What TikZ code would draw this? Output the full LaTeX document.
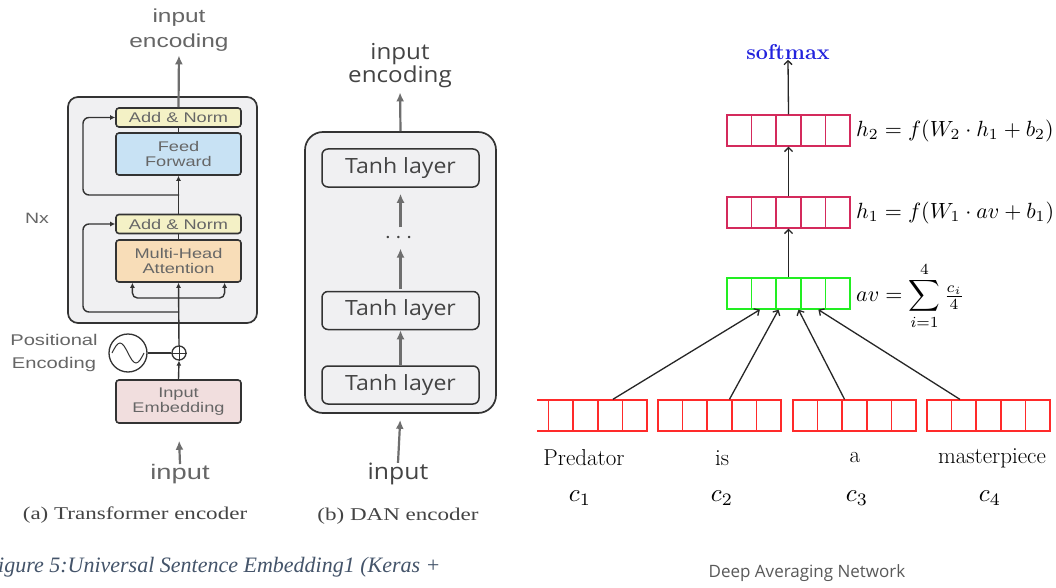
\documentclass[tikz,border=0pt]{standalone}
\usepackage{fontspec}
\usepackage{graphicx}
\usepackage{amsmath}
\usetikzlibrary{arrows.meta,calc}
\newfontfamily\arialf{Liberation Sans}
\newfontfamily\osans{Open Sans}
\newfontfamily\timesf{Liberation Serif}
\newcommand\fs[1]{\fontsize{#1}{#1}\selectfont}
\newcommand\sxa[1]{\scalebox{1.3}[1]{#1}}
\newcommand\sxb[1]{\scalebox{1.1}[1]{#1}}
\newcommand\sxc[1]{\scalebox{1.28}[1]{#1}}
\newcommand\mth[1]{\scalebox{2.2}{$#1$}}
\definecolor{tline}{HTML}{333333}
\definecolor{tgray}{HTML}{666666}
\definecolor{anfill}{HTML}{F4F1C6}
\definecolor{fffill}{HTML}{C8E2F4}
\definecolor{mhfill}{HTML}{F8DDB8}
\definecolor{iefill}{HTML}{F1DEDE}
\definecolor{bgfill}{HTML}{F0F0F2}
\definecolor{arrgray}{HTML}{6E6E6E}
\definecolor{vecred}{HTML}{D42A5C}
\definecolor{wordred}{HTML}{FF2A2A}
\definecolor{vecgreen}{HTML}{22EE22}
\definecolor{smblue}{HTML}{2222DD}
\definecolor{capblue}{HTML}{44546A}
\definecolor{dangray}{HTML}{595959}
\definecolor{txtdark}{HTML}{444444}
\newcommand\vecbox[4]{%
  \node[vec, draw=#4] (#1) at (#2+61.5,#3+15.5) {};
  \foreach \k in {1,...,4}
    \draw[#4, line width=1.3pt] ($(#1.north west)!\k/5!(#1.north east)$) -- ($(#1.south west)!\k/5!(#1.south east)$);
}
\begin{document}
\begin{tikzpicture}[x=1pt,y=-1pt,
  tbox/.style={draw=tline, line width=1.6pt, rounded corners=3pt, minimum width=125pt,
    inner sep=0pt, font=\arialf\fontsize{14}{15}\selectfont, text=tgray, align=center},
  tlab/.style={font=\arialf, text=tgray, align=center, inner sep=0pt},
  capt/.style={font=\timesf\fontsize{18}{20}\selectfont, text=txtdark, inner sep=0pt},
  garrow/.style={draw=arrgray, line width=2.2pt, -{Latex[length=9pt,width=8pt]}},
  tarrow/.style={draw=tline, line width=1.4pt, -{Latex[length=5pt,width=5pt]}},
  tlinep/.style={draw=tline, line width=1.4pt},
  danbox/.style={draw=tline, line width=1.5pt, rounded corners=6pt, fill=bgfill,
    minimum width=157pt, minimum height=38pt, inner sep=0pt,
    font=\osans\fontsize{21}{21}\selectfont, text=txtdark},
  vec/.style={minimum width=123pt, minimum height=31pt, inner sep=0pt, line width=1.3pt},
  narrow/.style={draw=black!85, line width=1.3pt, -{Straight Barb[length=4pt,width=8pt]}},
  word/.style={font=\fs{23}, inner sep=0pt}
]
\useasboundingbox (0,0) rectangle (1056,588);
\fill[white] (0,0) rectangle (1056,588);

% ================= Transformer encoder =================
\node[draw=tline, line width=1.7pt, fill=bgfill, rounded corners=10pt,
  minimum width=189pt, minimum height=226pt, inner sep=0pt] (tenc) at (162.5,210) {};
\node[tbox, fill=anfill, minimum height=19pt] (an1) at (178.5,117.5) {\sxa{Add \& Norm}};
\node[tbox, fill=fffill, minimum height=42pt] (ff) at (178.5,154) {\sxa{Feed}\\\sxa{Forward}};
\node[tbox, fill=anfill, minimum height=19pt] (an2) at (178.5,224) {\sxa{Add \& Norm}};
\node[tbox, fill=mhfill, minimum height=42pt] (mha) at (178.5,261) {\sxa{Multi-Head}\\\sxa{Attention}};
\node[tbox, fill=iefill, minimum height=43pt] (ie) at (178.5,401.5) {\sxa{Input}\\\sxa{Embedding}};
\node[tlab, font=\arialf\fontsize{15}{15}\selectfont] (nx) at (37,218) {\sxa{Nx}};
\node[tlab, font=\arialf\fontsize{15.5}{23}\selectfont] (poslab) at (54,353) {\sxa{Positional}\\\sxa{Encoding}};
\node[draw=tline, line width=1.3pt, circle, minimum size=14pt, inner sep=0pt] (plus) at (179,353) {};
\draw[tlinep, line width=1pt] (plus.north) -- (plus.south) (plus.west) -- (plus.east);
\node[draw=tline, line width=1.3pt, circle, minimum size=38pt, inner sep=0pt] (pe) at (128,353) {};
\draw[tlinep, line width=1pt] (112,353) sin (120,343) cos (128,353) sin (136,363) cos (144,353);
\draw[tlinep] (pe.east) -- (plus.west);
\node[tlab, font=\arialf\fontsize{18.8}{25}\selectfont] (tout) at (179,30) {\sxa{input}\\\sxa{encoding}};
\node[tlab, font=\arialf\fontsize{21}{21}\selectfont] (tin) at (180,474) {\sxa{input}};
\node[capt] (capa) at (135,515) {\sxc{(a) Transformer encoder}};
% connectors
\draw[garrow, shorten >=4pt] (an1.north) -- (tout.south);
\draw[tlinep] (ff.north) -- (an1.south);
\draw[tarrow] (an2.north) -- (ff.south);
\draw[tlinep] (mha.north) -- (an2.south);
\draw[tarrow] (plus.north) -- (mha.south);
\draw[tarrow, rounded corners=6pt] (179,195) -- (83,195) |- (an1.west);
\draw[tarrow, rounded corners=6pt] (179,312) -- (83,312) |- (an2.west);
\draw[tarrow, rounded corners=5pt] (179,298) -| ($(mha.south west)!0.136!(mha.south east)$);
\draw[tarrow, rounded corners=5pt] (179,298) -| ($(mha.south west)!0.864!(mha.south east)$);
\draw[tarrow] (ie.north) -- (plus.south);
\draw[garrow, shorten >=17pt] (tin.north) -- (ie.south);

% ================= DAN encoder =================
\node[draw=tline, line width=1.7pt, fill=bgfill, rounded corners=18pt,
  minimum width=191pt, minimum height=281pt, inner sep=0pt] (dan) at (400.5,272.5) {};
\node[danbox] (t3) at (400.5,168) {\sxb{Tanh layer}};
\node[danbox] (t2) at (400.5,310.5) {\sxb{Tanh layer}};
\node[danbox] (t1) at (400.5,385) {\sxb{Tanh layer}};
\node[inner sep=0pt, text=txtdark] (dots) at (400.5,238) {\scalebox{2.4}{$\cdots$}};
\node[tlab, font=\osans\fontsize{22}{23}\selectfont, text=txtdark] (dout) at (400,66) {\sxb{input}\\\sxb{encoding}};
\node[tlab, font=\osans\fontsize{22.5}{23}\selectfont, text=txtdark] (din) at (398,474) {\sxb{input}};
\node[capt] (capb) at (398,516) {\sxc{(b) DAN encoder}};
\draw[garrow] (t1.north) -- (t2.south);
\draw[garrow, shorten <=2pt, shorten >=5pt] (t2.north) -- (dots.south);
\draw[garrow, shorten <=5pt, shorten >=6pt] (dots.north) -- (t3.south);
\draw[garrow, shorten >=4pt] (dan.north) -- (dout.south);
\draw[garrow, shorten >=6pt] (din.north) -- (dan.south);

% ================= Deep averaging network =================
\node[font=\bfseries\fontsize{21.5}{21.5}\selectfont, text=smblue, inner sep=0pt] (sm) at (788,52) {softmax};
\vecbox{h2}{727}{115}{vecred}
\vecbox{h1}{727}{197}{vecred}
\vecbox{av}{727}{278}{vecgreen}
\node[anchor=west, inner sep=0pt] (fh2) at (856,131) {\mth{h_2 = f(W_2\cdot h_1 + b_2)}};
\node[anchor=west, inner sep=0pt] (fh1) at (856,213) {\mth{h_1 = f(W_1\cdot av + b_1)}};
\node[anchor=west, inner sep=0pt] (fav) at (856,296) {\mth{av = \displaystyle\sum_{i=1}^{4} \tfrac{c_i}{4}}};
\begin{scope}
  \clip (537,380) rectangle (652,445);
  \vecbox{w1}{524}{400}{wordred}
\end{scope}
\vecbox{w2}{658}{400}{wordred}
\vecbox{w3}{793}{400}{wordred}
\vecbox{w4}{927}{400}{wordred}
\draw[narrow] (h2.north) -- (sm.south);
\draw[narrow] (h1.north) -- (h2.south);
\draw[narrow] (av.north) -- (h1.south);
\draw[narrow] ($(w1.north west)!0.72!(w1.north east)$) -- ($(av.south west)!0.27!(av.south east)$);
\draw[narrow] ($(w2.north west)!0.58!(w2.north east)$) -- ($(av.south west)!0.42!(av.south east)$);
\draw[narrow] ($(w3.north west)!0.42!(w3.north east)$) -- ($(av.south west)!0.58!(av.south east)$);
\draw[narrow] ($(w4.north west)!0.27!(w4.north east)$) -- ($(av.south west)!0.74!(av.south east)$);
\node[word] (wd1) at (584,458) {Predator};
\node[word] (wd2) at (722,458) {is};
\node[word] (wd3) at (855,458) {a};
\node[word] (wd4) at (992,458) {masterpiece};
\node[inner sep=0pt] (c1) at (580,498) {\scalebox{2.5}{$c_1$}};
\node[inner sep=0pt] (c2) at (722,498) {\scalebox{2.5}{$c_2$}};
\node[inner sep=0pt] (c3) at (857,498) {\scalebox{2.5}{$c_3$}};
\node[inner sep=0pt] (c4) at (990,498) {\scalebox{2.5}{$c_4$}};
\node[font=\osans\fontsize{17}{17}\selectfont, text=dangray, inner sep=0pt] (dantitle) at (807,573) {Deep Averaging Network};

% caption
\node[anchor=west, font=\timesf\itshape\fontsize{22}{22}\selectfont, text=capblue, inner sep=0pt] (fig) at (-2,567) {igure 5:Universal Sentence Embedding1 (Keras +};
\end{tikzpicture}
\end{document}
